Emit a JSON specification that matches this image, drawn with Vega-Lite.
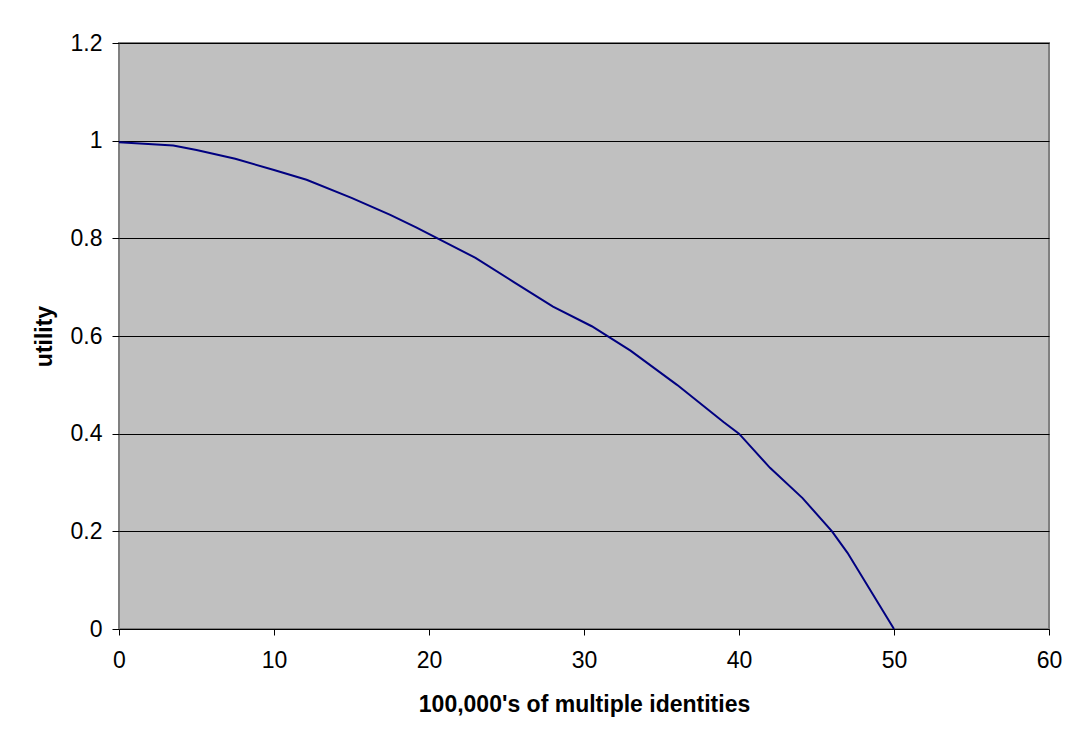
{
  "$schema": "https://vega.github.io/schema/vega-lite/v6.json",
  "autosize": "none",
  "width": 930,
  "height": 586,
  "padding": {"left": 119, "top": 43, "right": 21, "bottom": 111},
  "background": "white",
  "config": {
    "font": "Liberation Sans",
    "view": {"fill": "#C0C0C0", "stroke": "#808080", "strokeWidth": 2},
    "axis": {
      "labelFont": "Liberation Sans",
      "titleFont": "Liberation Sans",
      "labelFontSize": 23,
      "titleFontSize": 23,
      "titleFontWeight": "bold",
      "labelColor": "black",
      "titleColor": "black",
      "tickColor": "black",
      "domainColor": "black",
      "tickSize": 6,
      "labelFlush": false,
      "labelOverlap": false
    }
  },
  "data": {
    "values": [
      {"x": 0, "y": 0.997},
      {"x": 3.5, "y": 0.99},
      {"x": 5, "y": 0.981},
      {"x": 7.5, "y": 0.963},
      {"x": 10, "y": 0.94},
      {"x": 12.1, "y": 0.92},
      {"x": 15, "y": 0.883},
      {"x": 17.5, "y": 0.848},
      {"x": 19.2, "y": 0.822},
      {"x": 23, "y": 0.76},
      {"x": 25.5, "y": 0.71},
      {"x": 28, "y": 0.66},
      {"x": 30.5, "y": 0.62},
      {"x": 33, "y": 0.57},
      {"x": 36, "y": 0.5},
      {"x": 39, "y": 0.424},
      {"x": 40, "y": 0.4},
      {"x": 42, "y": 0.33},
      {"x": 44.1, "y": 0.268},
      {"x": 46, "y": 0.2},
      {"x": 47, "y": 0.156},
      {"x": 50, "y": 0}
    ]
  },
  "mark": {"type": "line", "color": "#000080", "strokeWidth": 2},
  "encoding": {
    "x": {
      "field": "x",
      "type": "quantitative",
      "scale": {"domain": [0, 60], "nice": false},
      "axis": {
        "title": "100,000's of multiple identities",
        "values": [0, 10, 20, 30, 40, 50, 60],
        "format": "d",
        "grid": false,
        "domain": false,
        "labelPadding": 14,
        "titlePadding": 21
      }
    },
    "y": {
      "field": "y",
      "type": "quantitative",
      "scale": {"domain": [0, 1.2], "nice": false},
      "axis": {
        "title": "utility",
        "values": [0, 0.2, 0.4, 0.6, 0.8, 1, 1.2],
        "format": "~g",
        "grid": true,
        "gridColor": "black",
        "gridWidth": 1,
        "domain": false,
        "tickSize": 7,
        "labelPadding": 10,
        "titlePadding": 14
      }
    }
  }
}
